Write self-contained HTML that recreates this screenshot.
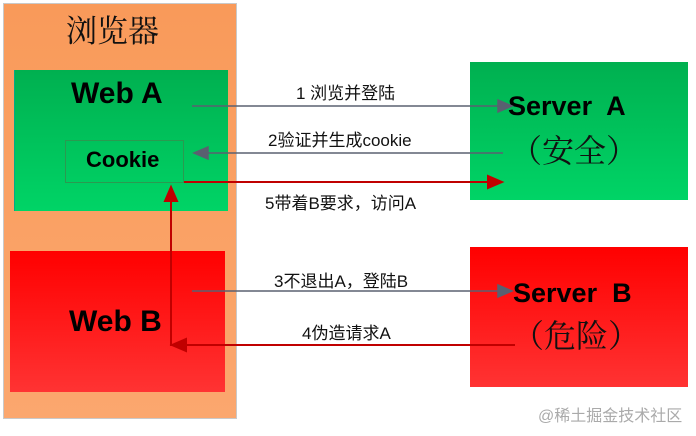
<html><head><style>
body{margin:0;width:696px;height:436px;background:#fff;position:relative;overflow:hidden;font-family:"Liberation Sans","Noto Sans CJK SC",sans-serif}
div{position:absolute;box-sizing:border-box}
.t{font-family:"Liberation Sans","Noto Sans CJK SC",sans-serif;font-size:17px;color:#111;white-space:nowrap}
.b{font-weight:bold;color:#000}
</style></head><body>
<div style="left:3px;top:3px;width:234px;height:416px;background:linear-gradient(#f99a5a,#fba76e);border:1px solid #c9c9c9"></div>
<div class="t" style="left:66px;top:6px;font-size:31px;font-family:'Noto Serif CJK SC',serif">浏览器</div>
<div style="left:14px;top:70px;width:214px;height:141px;background:linear-gradient(#00b050,#00d466);border-left:1px solid #0a8;"></div>
<div class="t b" style="left:71px;top:77px;font-size:30px">Web A</div>
<div style="left:65px;top:140px;width:119px;height:43px;border:1px solid #2a9a50"></div>
<div class="t b" style="left:86px;top:147px;font-size:22px">Cookie</div>
<div style="left:10px;top:251px;width:215px;height:141px;background:linear-gradient(#ff0000,#f33)"></div>
<div class="t b" style="left:69px;top:305px;font-size:30px">Web B</div>
<div style="left:470px;top:62px;width:218px;height:138px;background:linear-gradient(#00b050,#00d466)"></div>
<div class="t b" style="left:508px;top:91px;font-size:27px">Server&nbsp; A</div>
<div class="t" style="left:510px;top:126px;font-size:32px;font-family:'Noto Serif CJK SC',serif">（安全）</div>
<div style="left:470px;top:247px;width:218px;height:140px;background:linear-gradient(#ff0000,#f33)"></div>
<div class="t b" style="left:513px;top:278px;font-size:27px">Server&nbsp; B</div>
<div class="t" style="left:512px;top:311px;font-size:32px;font-family:'Noto Serif CJK SC',serif">（危险）</div>
<div class="t" style="left:296px;top:79px">1 浏览并登陆</div>
<div class="t" style="left:268px;top:126px">2验证并生成cookie</div>
<div class="t" style="left:265px;top:189px">5带着B要求，访问A</div>
<div class="t" style="left:274px;top:267px">3不退出A，登陆B</div>
<div class="t" style="left:302px;top:319px">4伪造请求A</div>
<div class="t" style="left:538px;top:402px;font-size:16px;color:#aaa">@稀土掘金技术社区</div>
<svg width="696" height="436" style="position:absolute;left:0;top:0">
<g stroke="#5a6070" stroke-width="1.5" fill="#5a6070">
<line x1="192" y1="106" x2="500" y2="106"/><polygon points="512,106 498,100 498,112"/>
<line x1="503" y1="153" x2="206" y2="153"/><polygon points="194,153 208,147 208,159"/>
<line x1="192" y1="291" x2="500" y2="291"/><polygon points="512,291 498,285 498,297"/>
</g>
<g stroke="#c00000" stroke-width="2" fill="#c00000">
<line x1="184" y1="182" x2="490" y2="182"/><polygon points="502,182 488,176 488,188"/>
<line x1="171" y1="346" x2="171" y2="200"/><polygon points="171,187 165,201 177,201"/>
<line x1="515" y1="345" x2="184" y2="345"/><polygon points="172,345 186,339 186,351"/>
</g>
</svg>
</body></html>
